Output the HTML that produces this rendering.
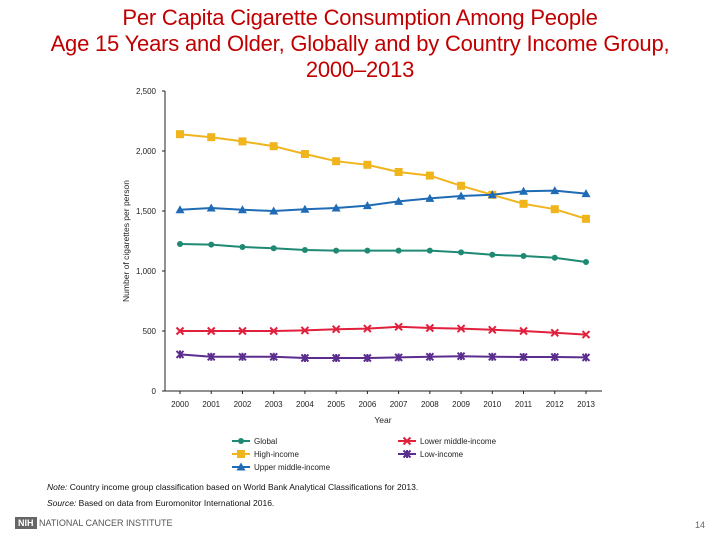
<!DOCTYPE html>
<html><head><meta charset="utf-8"><style>
body{margin:0;width:720px;height:540px;background:#fff;font-family:"Liberation Sans",sans-serif;position:relative;overflow:hidden}
.t{position:absolute;left:0;width:720px;text-align:center;color:#c00000;font-size:22px;line-height:26px;top:5px;letter-spacing:-0.2px}
.note{position:absolute;left:47px;font-size:8.5px;color:#111}
</style></head><body>
<div class="t">Per Capita Cigarette Consumption Among People<br>Age 15 Years and Older, Globally and by Country Income Group,<br>2000–2013</div>
<svg id="c" width="720" height="540" style="position:absolute;left:0;top:0"></svg>
<div class="note" style="top:482px"><i>Note:</i> Country income group classification based on World Bank Analytical Classifications for 2013.</div>
<div class="note" style="top:498px"><i>Source:</i> Based on data from Euromonitor International 2016.</div>
<div style="position:absolute;left:15px;top:518px;font-size:9px;color:#555"><span style="background:#666;color:#fff;padding:1px 3px;font-weight:bold">NIH</span> NATIONAL CANCER INSTITUTE</div>
<div style="position:absolute;left:695px;top:520px;font-size:9px;color:#666">14</div>
<script>
const years=[2000,2001,2002,2003,2004,2005,2006,2007,2008,2009,2010,2011,2012,2013];
const globalVals=[1225,1220,1200,1190,1175,1170,1170,1170,1170,1155,1135,1125,1110,1075];
const highVals=[2140,2115,2080,2040,1975,1915,1885,1825,1795,1710,1635,1560,1515,1435];
const upperVals=[1510,1525,1510,1500,1515,1525,1545,1580,1605,1625,1635,1665,1670,1645];
const lowerVals=[500,500,500,500,505,515,520,535,525,520,510,500,485,470];
const lowVals=[305,285,285,285,275,275,275,280,285,290,285,283,283,280];
const yTicks=[0,500,1000,1500,2000,2500];
const yTickLabels=["0","500","1,000","1,500","2,000","2,500"];
const NS="http://www.w3.org/2000/svg",svg=document.getElementById('c');
const x=i=>180+i*(586-180)/(years.length-1), y=v=>391-v*300/2500;
function mk(t,a,p){const e=document.createElementNS(NS,t);for(const k in a)e.setAttribute(k,a[k]);(p||svg).appendChild(e);return e;}
let ax=mk('line',{x1:165,y1:91,x2:165,y2:391,stroke:'#222'});

let bx=mk('line',{x1:165,y1:391,x2:602,y2:391,stroke:'#222'});

yTicks.forEach((v,i)=>{mk('line',{x1:162,x2:165,y1:y(v),y2:y(v),stroke:'#222'});
 const t=mk('text',{x:156,y:y(v)+3,'text-anchor':'end','font-size':8,fill:'#222'});t.textContent=yTickLabels[i];
 });
years.forEach((yr,i)=>{mk('line',{x1:x(i),x2:x(i),y1:391,y2:394,stroke:'#222'});
 const t=mk('text',{x:x(i),y:407,'text-anchor':'middle','font-size':8,fill:'#222'});t.textContent=yr;
 });
let xt=mk('text',{x:383,y:423,'text-anchor':'middle','font-size':8.5,fill:'#222'});xt.textContent='Year';

let yt=mk('text',{x:0,y:0,'text-anchor':'middle','font-size':8.5,fill:'#222',transform:'translate(129,241) rotate(-90)'});yt.textContent='Number of cigarettes per person';

function marker(g,type,cx,cy,col){
 if(type==='d')mk('circle',{cx,cy,r:3,fill:col},g);
 else if(type==='s')mk('rect',{x:cx-4,y:cy-4,width:8,height:8,fill:col},g);
 else if(type==='t')mk('path',{d:`M${cx},${cy-4.5}L${cx+4.5},${cy+3.5}L${cx-4.5},${cy+3.5}Z`,fill:col},g);
 else{mk('path',{d:`M${cx-3.5},${cy-3.5}L${cx+3.5},${cy+3.5}M${cx+3.5},${cy-3.5}L${cx-3.5},${cy+3.5}`,stroke:col,'stroke-width':2},g);
  if(type==='a')mk('path',{d:`M${cx},${cy-4}L${cx},${cy+4}`,stroke:col,'stroke-width':2},g);}
}
const series=[[highVals,'#f0b41c','s','series-high-income'],[upperVals,'#1f6bb5','t','series-upper-middle-income'],[globalVals,'#1e8a73','d','series-global'],[lowerVals,'#e0203c','x','series-lower-middle-income'],[lowVals,'#5b2d8e','a','series-low-income']];
series.forEach(([vals,col,type,name])=>{const g=mk('g',{});
 
 mk('polyline',{points:vals.map((v,i)=>x(i)+','+y(v)).join(' '),fill:'none',stroke:col,'stroke-width':2},g);
 vals.forEach((v,i)=>marker(g,type,x(i),y(v),col));});
const legend=[['Global','#1e8a73','d',232,441],['High-income','#f0b41c','s',232,454],['Upper middle-income','#1f6bb5','t',232,467],['Lower middle-income','#e0203c','x',398,441],['Low-income','#5b2d8e','a',398,454]];
legend.forEach(([lab,col,type,lx,ly])=>{const g=mk('g',{});
 
 mk('line',{x1:lx,x2:lx+18,y1:ly,y2:ly,stroke:col,'stroke-width':2},g);marker(g,type,lx+9,ly,col);
 const t=mk('text',{x:lx+22,y:ly+3,'font-size':8,fill:'#222'},g);t.textContent=lab;});
</script>
</body></html>
